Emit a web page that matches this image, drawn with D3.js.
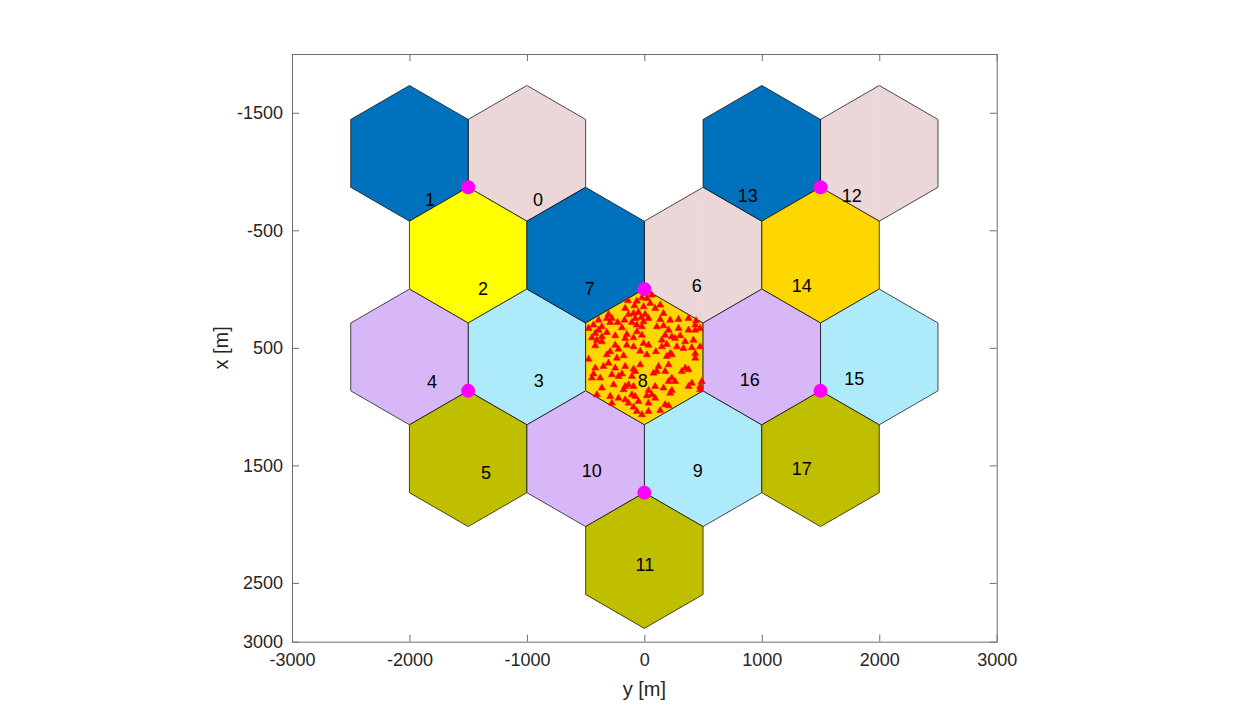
<!DOCTYPE html>
<html>
<head>
<meta charset="utf-8">
<script src="https://cdn.jsdelivr.net/npm/d3@7"></script>
<style>
  body { margin: 0; background: #fff; }
  text { font-family: "Liberation Sans", Arial, sans-serif; fill: #262626; }
</style>
</head>
<body>
<div class="chart"></div>
<script>
// cell data (horizontal axis is "y", vertical axis is "x")
var cellIds = [0, 1, 2, 3, 4, 5, 6, 7, 8, 9, 10, 11, 12, 13, 14, 15, 16, 17];
var cellY = [-1000, -2000, -1500, -1000, -2000, -1500, 500, -500, 0, 500, -500, 0, 2000, 1000, 1500, 2000, 1000, 1500];
var cellX = [-1154.7, -1154.7, -288.7, 577.35, 577.35, 1443.4, -288.7, -288.7, 577.35, 1443.4, 1443.4, 2309.4, -1154.7, -1154.7, -288.7, 577.35, 577.35, 1443.4];
var cellGroup = [0, 1, 2, 3, 4, 5, 0, 1, 6, 3, 4, 5, 0, 1, 6, 3, 4, 5];

// label anchor points
var labelY = [-906, -1826, -1374, -898, -1809, -1349, 447, -464, -13, 455, -447, 4, 1766, 881, 1340, 1787, 898, 1340];
var labelX = [-766, -766, -9, 774, 783, 1557, -34, -9, 774, 1540, 1540, 2340, -800, -800, -34, 757, 766, 1523];

// base stations
var siteY = [-1500, 1500, 0, -1500, 1500, 0];
var siteX = [-866, -866, 0, 866, 866, 1732];

// users in cell 8, [y, x]
var users = [
  [-140, 99], [-64, 102], [-21, 74], [-163, 165], [-84, 142], [-7, 150], [-92, 207], [-305, 216],
  [-135, 216], [-50, 199], [-319, 250], [-277, 250], [-169, 264], [-78, 250], [-27, 241], [-390, 264],
  [-291, 284], [-106, 284], [-228, 284], [-433, 306], [-362, 321], [-191, 329], [-64, 306], [-21, 321],
  [-475, 335], [-390, 349], [-418, 377], [-319, 369], [-149, 386], [-64, 363], [-447, 414], [-362, 406],
  [-248, 397], [-92, 414], [-404, 434], [-163, 420], [-7, 462], [-418, 482], [-248, 477], [-149, 477],
  [-92, 491], [-220, 511], [-35, 528], [-291, 533], [-362, 448], [-21, 392],
  [7, 37], [64, 51], [21, 79], [50, 122], [135, 136], [92, 165], [163, 207], [7, 216],
  [35, 250], [135, 258], [220, 264], [291, 258], [376, 250], [440, 270], [106, 321], [163, 312],
  [206, 349], [291, 335], [433, 306], [433, 349], [475, 335], [177, 392], [234, 406], [305, 397],
  [262, 420], [149, 434], [347, 448], [418, 434], [475, 491], [149, 491], [191, 471], [277, 491],
  [333, 505], [404, 499], [98, 533], [220, 548], [433, 548], [35, 477], [-7, 278], [376, 349],
  [-475, 596], [-319, 559], [-234, 587], [-177, 567], [-348, 658], [-418, 672], [-305, 630], [-248, 672],
  [-163, 658], [-92, 681], [-35, 644], [-433, 721], [-447, 757], [-376, 757], [-277, 729], [-220, 743],
  [-191, 721], [-106, 743], [-78, 700], [-262, 814], [-163, 828], [-135, 814], [-92, 828], [-362, 842],
  [-177, 856], [-404, 899], [-291, 913], [-220, 928], [-163, 942], [-78, 913], [-106, 899], [-277, 970],
  [-92, 1004], [-64, 1041], [-21, 1069], [-135, 970], [-50, 956],
  [21, 559], [191, 573], [234, 559], [433, 587], [121, 658], [206, 644], [106, 700], [177, 700],
  [319, 700], [348, 672], [376, 686], [78, 715], [234, 757], [206, 786], [262, 786], [404, 800],
  [376, 828], [489, 786], [475, 828], [92, 828], [163, 842], [35, 863], [234, 863], [21, 908],
  [64, 899], [92, 928], [220, 885], [35, 970], [177, 984], [206, 993], [135, 1033], [35, 1041],
  [475, 856]
];

var xTicks = [-3000, -2000, -1000, 0, 1000, 2000, 3000];
var yTicks = [-1500, -500, 500, 1500, 2500, 3000];

var svgWidth = 1246;
var svgHeight = 721;
var margin = { top: 54, left: 292 };
var width = 704.7;
var height = 587.7;

var svg = d3.select(".chart")
  .append("svg")
  .attr("width", svgWidth)
  .attr("height", svgHeight);

var chartGroup = svg.append("g")
  .attr("transform", `translate(${margin.left}, ${margin.top})`);

var xScale = d3.scaleLinear().domain([-3000, 3000]).range([0, width]);
var yScale = d3.scaleLinear().domain([-2000, 3000]).range([0, height]);

var color = d3.scaleOrdinal()
  .domain([0, 1, 2, 3, 4, 5, 6])
  .range(["#ebd7d7", "#0072bd", "#ffff00", "#adebfb", "#d8b7f8", "#bfbf00", "#ffd700"]);

// hexagon corners, pointy top
var R = 1000 / Math.sqrt(3);
var corners = [[0, -R], [500, -R / 2], [500, R / 2], [0, R], [-500, R / 2], [-500, -R / 2]];

var cells = cellIds.map((id, i) => ({ id: id, y: cellY[i], x: cellX[i], g: cellGroup[i] }));

chartGroup.selectAll(".cell")
  .data(cells)
  .enter()
  .append("polygon")
  .attr("class", "cell")
  .attr("points", d => corners.map(c => [xScale(d.y + c[0]), yScale(d.x + c[1])].join(",")).join(" "))
  .attr("fill", d => color(d.g))
  .attr("stroke", "#000")
  .attr("stroke-width", 0.7);

// faint fill seams like the patch triangulation
chartGroup.selectAll(".seam")
  .data(cells.flatMap(d => [3, 4, 2].map(k => ({ d: d, k: k }))))
  .enter()
  .append("line")
  .attr("x1", s => xScale(s.d.y + corners[0][0]))
  .attr("y1", s => yScale(s.d.x + corners[0][1]))
  .attr("x2", s => xScale(s.d.y + corners[s.k][0]))
  .attr("y2", s => yScale(s.d.x + corners[s.k][1]))
  .attr("stroke", s => d3.color(color(s.d.g)).brighter(0.2))
  .attr("stroke-width", 0.5)
  .attr("opacity", 0.3);

// users
chartGroup.selectAll(".user")
  .data(users)
  .enter()
  .append("path")
  .attr("class", "user")
  .attr("d", d3.symbol().type(d3.symbolTriangle).size(22))
  .attr("transform", d => `translate(${xScale(d[0])}, ${yScale(d[1])})`)
  .attr("fill", "#ff0000")
  .attr("stroke", "#ff0000")
  .attr("stroke-width", 0.5);

// cell labels
chartGroup.selectAll(".label")
  .data(cellIds)
  .enter()
  .append("text")
  .attr("x", (d, i) => xScale(labelY[i]))
  .attr("y", (d, i) => yScale(labelX[i]))
  .attr("dy", "0.36em")
  .style("font-size", "18px")
  .style("text-anchor", "middle")
  .style("fill", "#000")
  .text(d => d);

// base stations
chartGroup.selectAll(".site")
  .data(siteY)
  .enter()
  .append("circle")
  .attr("cx", d => xScale(d))
  .attr("cy", (d, i) => yScale(siteX[i]))
  .attr("r", 7)
  .attr("fill", "#ff00ff");

// axes
var fmt = d => String(d);
var bottomAxis = d3.axisBottom(xScale).tickValues(xTicks).tickFormat(fmt).tickSize(-7).tickSizeOuter(0).tickPadding(12);
var leftAxis = d3.axisLeft(yScale).tickValues(yTicks).tickFormat(fmt).tickSize(-7).tickSizeOuter(0).tickPadding(9);
var topAxis = d3.axisTop(xScale).tickValues(xTicks).tickSize(-7).tickSizeOuter(0).tickFormat("");
var rightAxis = d3.axisRight(yScale).tickValues(yTicks).tickSize(-7).tickSizeOuter(0).tickFormat("");

var axes = [
  chartGroup.append("g").attr("transform", `translate(0, ${height})`).call(bottomAxis),
  chartGroup.append("g").call(leftAxis),
  chartGroup.append("g").call(topAxis),
  chartGroup.append("g").attr("transform", `translate(${width}, 0)`).call(rightAxis)
];
axes.forEach(a => {
  a.selectAll("path, line").attr("stroke", "#6e6e6e");
  a.selectAll("text").style("font-size", "18px").style("fill", "#262626");
});

// axis labels
chartGroup.append("text")
  .attr("transform", `translate(${width / 2}, ${height + 54})`)
  .style("font-size", "20px")
  .style("text-anchor", "middle")
  .text("y [m]");

chartGroup.append("text")
  .attr("transform", `translate(-64, ${yScale(500)}) rotate(-90)`)
  .style("font-size", "20px")
  .style("text-anchor", "middle")
  .text("x [m]");
</script>
</body>
</html>
